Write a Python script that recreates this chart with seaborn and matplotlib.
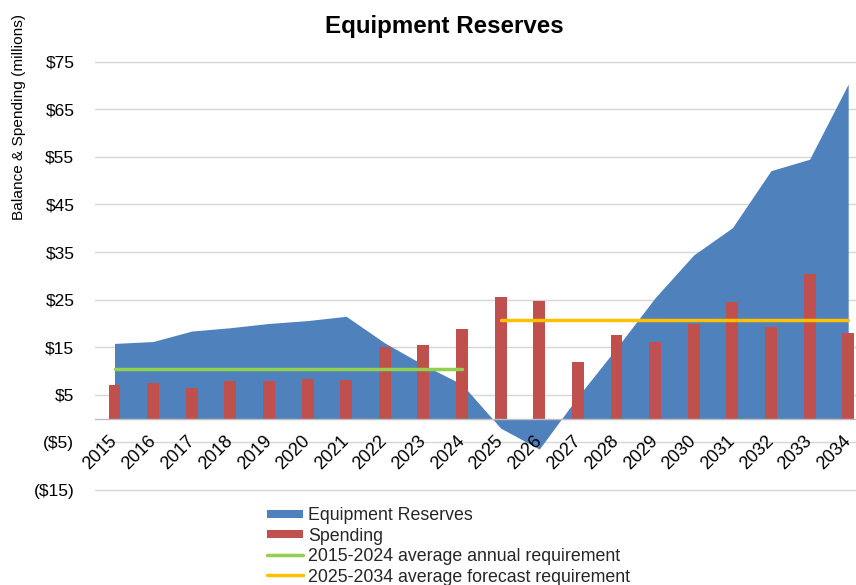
import matplotlib
matplotlib.use("Agg")
import matplotlib.pyplot as plt
from matplotlib.lines import Line2D
import seaborn as sns
import pandas as pd

# Data (millions of dollars)
years = [str(y) for y in range(2015, 2035)]
reserves = [15.8, 16.2, 18.4, 19.1, 20.0, 20.6, 21.5, 15.9, 11.3, 7.2,
            -2.0, -6.4, 4.6, 14.8, 25.4, 34.4, 40.1, 52.1, 54.5, 70.3]
spending = [7.1, 7.4, 6.5, 8.0, 7.9, 8.4, 8.2, 15.1, 15.5, 18.8,
            25.5, 24.8, 12.0, 17.5, 16.2, 19.8, 24.4, 19.3, 30.4, 17.9]
past_avg = 10.4        # 2015-2024 average annual requirement
forecast_avg = 20.8    # 2025-2034 average forecast requirement
y_ticks = [-15, -5, 5, 15, 25, 35, 45, 55, 65, 75]

BLUE = "#4F81BD"
RED = "#C0504D"
GREEN = "#92D050"
GOLD = "#FFC000"
GRID = "#D6D6D6"

sns.set_theme(style="white")
plt.rcParams["font.family"] = ["Liberation Sans", "DejaVu Sans"]

W, H = 856, 585
fig = plt.figure(figsize=(W / 100, H / 100), dpi=100)
left, right = 95.2, 867.5
top, bottom = 61.7, 490.0
ax = fig.add_axes([left / W, 1 - bottom / H, (right - left) / W, (bottom - top) / H])

df = pd.DataFrame({"year": years, "spending": spending, "reserves": reserves})
x = list(range(len(years)))

# Horizontal gridlines behind everything
for t in y_ticks:
    ax.axhline(t, color=GRID, lw=1.0, zorder=0, clip_on=False)

# Reserve balance as a filled area down to zero
ax.fill_between(x, df["reserves"], 0, color=BLUE, lw=0, zorder=1)

# Annual spending bars
sns.barplot(data=df, x="year", y="spending", color=RED, width=0.31,
            saturation=1, linewidth=0, edgecolor="none", ax=ax, zorder=2)

# Average requirement lines
n_past = 10
ax.plot([0, n_past - 1], [past_avg, past_avg], color=GREEN, lw=2.5,
        solid_capstyle="round", zorder=3)
ax.plot([n_past, len(years) - 1], [forecast_avg, forecast_avg], color=GOLD,
        lw=2.5, solid_capstyle="round", zorder=3)

ax.set_xlim(-0.5, len(years) - 0.5)
ax.set_ylim(-15, 75)
ax.set_yticks(y_ticks)
ax.set_yticklabels([f"${v}" if v >= 0 else f"(${-v})" for v in y_ticks])
ax.set_xlabel("")
ax.set_ylabel("")

for s in ["top", "right", "left"]:
    ax.spines[s].set_visible(False)
ax.spines["bottom"].set_position(("data", 0))
ax.spines["bottom"].set_color("#BDBDBD")
ax.spines["bottom"].set_linewidth(1.0)
ax.spines["bottom"].set_zorder(4)
# keep the year labels above the filled area
ax.xaxis.set_zorder(5)
ax.yaxis.set_zorder(5)

ax.tick_params(axis="y", length=0, pad=15, labelsize=12.5, labelcolor="black")
ax.tick_params(axis="x", length=0, pad=14, labelsize=13, labelcolor="black")
for lab in ax.get_xticklabels():
    lab.set_rotation(45)
    lab.set_ha("right")
    lab.set_va("center")
    lab.set_rotation_mode("anchor")

fig.text(444 / W, 1 - 27 / H, "Equipment Reserves", ha="center", va="center",
         fontsize=17.4, fontweight="bold", color="black")
fig.text(19.5 / W, 1 - 220 / H, "Balance & Spending (millions)", rotation=90,
         ha="center", va="bottom", fontsize=11.1, color="black")

handles = [
    Line2D([], [], color=BLUE, lw=5.8, solid_capstyle="butt"),
    Line2D([], [], color=RED, lw=5.8, solid_capstyle="butt"),
    Line2D([], [], color=GREEN, lw=2.5, solid_capstyle="round"),
    Line2D([], [], color=GOLD, lw=2.5, solid_capstyle="round"),
]
labels = ["Equipment Reserves", "Spending",
          "2015-2024 average annual requirement",
          "2025-2034 average forecast requirement"]
fig.legend(handles, labels, loc="upper left",
           bbox_to_anchor=(267 / W, 1 - 507 / H), frameon=False,
           fontsize=12.8, handlelength=2.0, handletextpad=0.3,
           labelspacing=0.2, borderpad=0, borderaxespad=0)

fig.savefig("out.png", dpi=100)
